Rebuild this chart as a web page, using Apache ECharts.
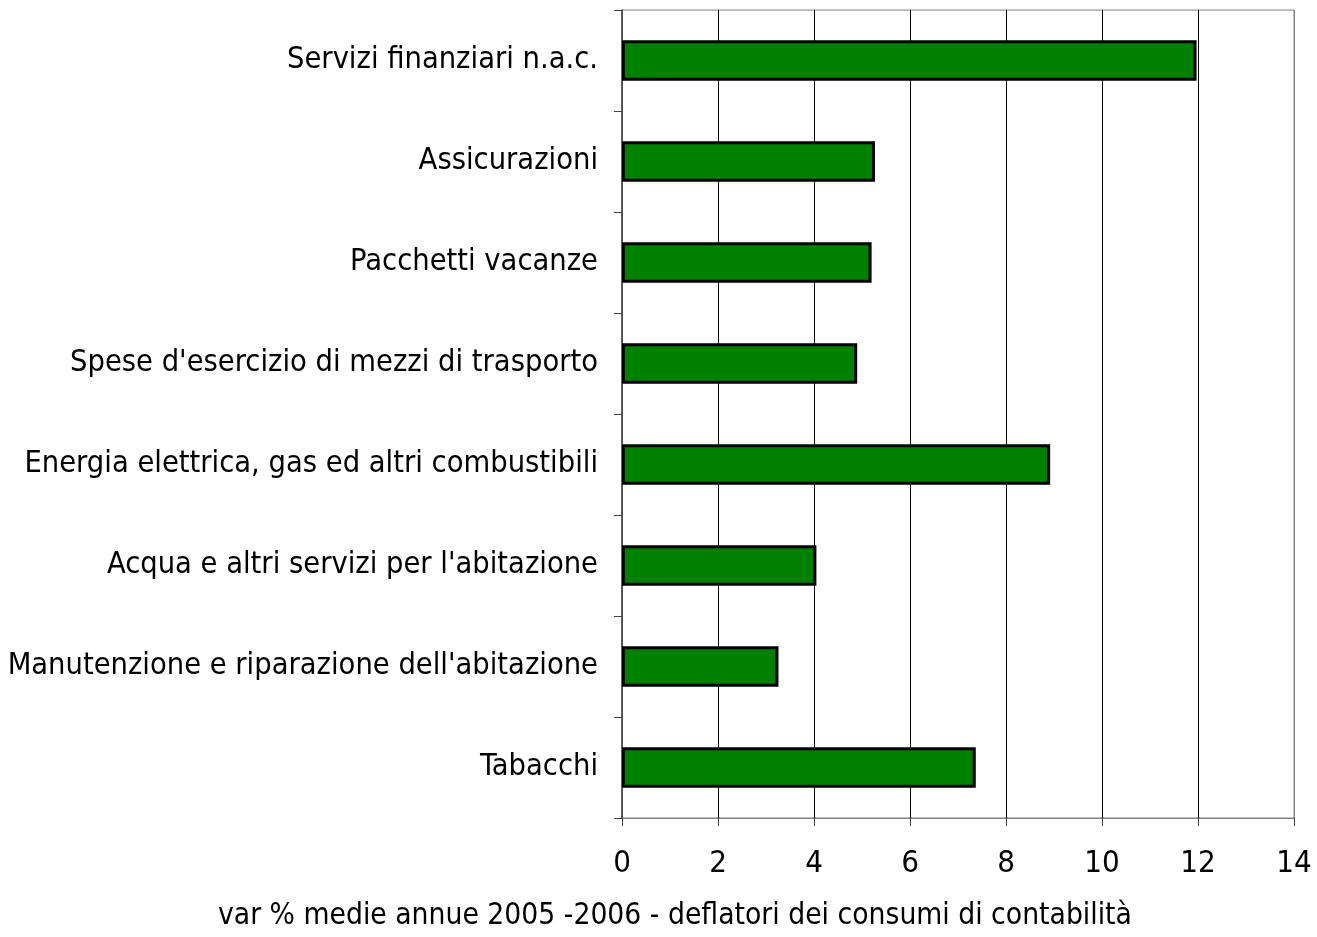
<!DOCTYPE html>
<html>
<head>
<meta charset="utf-8">
<title>deflatori dei consumi</title>
<script src="https://cdn.jsdelivr.net/npm/echarts@6/dist/echarts.min.js"></script>
<style>
  html, body { margin: 0; padding: 0; background: #fff; }
  #chart { width: 1317px; height: 937px; }
</style>
</head>
<body>
<div id="chart"></div>
<script>
  // categorie dall'alto verso il basso
  const categories = [
    'Servizi finanziari n.a.c.',
    'Assicurazioni',
    'Pacchetti vacanze',
    "Spese d'esercizio di mezzi di trasporto",
    'Energia elettrica, gas ed altri combustibili',
    "Acqua e altri servizi per l'abitazione",
    "Manutenzione e riparazione dell'abitazione",
    'Tabacchi'
  ]
  const values = [11.97, 5.27, 5.2, 4.9, 8.92, 4.05, 3.26, 7.37]
  const xTicks = { min: 0, max: 14, interval: 2 }
  const axisName = 'var % medie annue 2005 -2006 - deflatori dei consumi di contabilità'

  const font = '"DejaVu Sans Condensed", "DejaVu Sans", sans-serif'

  const chart = echarts.init(document.getElementById('chart'))
  chart.setOption({
    backgroundColor: '#fff',
    animation: false,
    title: {
      text: axisName,
      left: 213,
      top: 896,
      textStyle: {
        fontFamily: font,
        fontWeight: 'normal',
        fontSize: 29.7,
        color: '#000'
      }
    },
    grid: {
      left: 622,
      right: 23,
      top: 10,
      bottom: 119,
      containLabel: false,
      outerBoundsMode: 'none',
      show: true,
      borderColor: '#808080',
      borderWidth: 1
    },
    xAxis: {
      type: 'value',
      min: xTicks.min,
      max: xTicks.max,
      interval: xTicks.interval,
      axisLine: { show: true, lineStyle: { color: '#808080', width: 1 } },
      axisTick: { show: true, length: 8, lineStyle: { color: '#404040' } },
      axisLabel: {
        margin: 30,
        fontFamily: font,
        fontSize: 31,
        color: '#000'
      },
      splitLine: {
        show: true,
        lineStyle: {
          color: ['#808080', '#000', '#000', '#000', '#000', '#000', '#000', '#808080'],
          width: 1
        }
      }
    },
    yAxis: {
      type: 'category',
      inverse: true,
      data: categories,
      axisLine: { show: true, lineStyle: { color: '#404040', width: 1.5 } },
      axisTick: { show: true, length: 8, alignWithLabel: false, lineStyle: { color: '#404040' } },
      axisLabel: {
        margin: 24,
        padding: [7, 0, 0, 0],
        fontFamily: font,
        fontSize: 30.5,
        color: '#000'
      },
      splitLine: { show: false }
    },
    series: [{
      type: 'bar',
      data: values,
      barCategoryGap: '60%',
      itemStyle: {
        color: '#008000',
        borderColor: '#000',
        borderWidth: 3
      }
    }]
  })
</script>
</body>
</html>
